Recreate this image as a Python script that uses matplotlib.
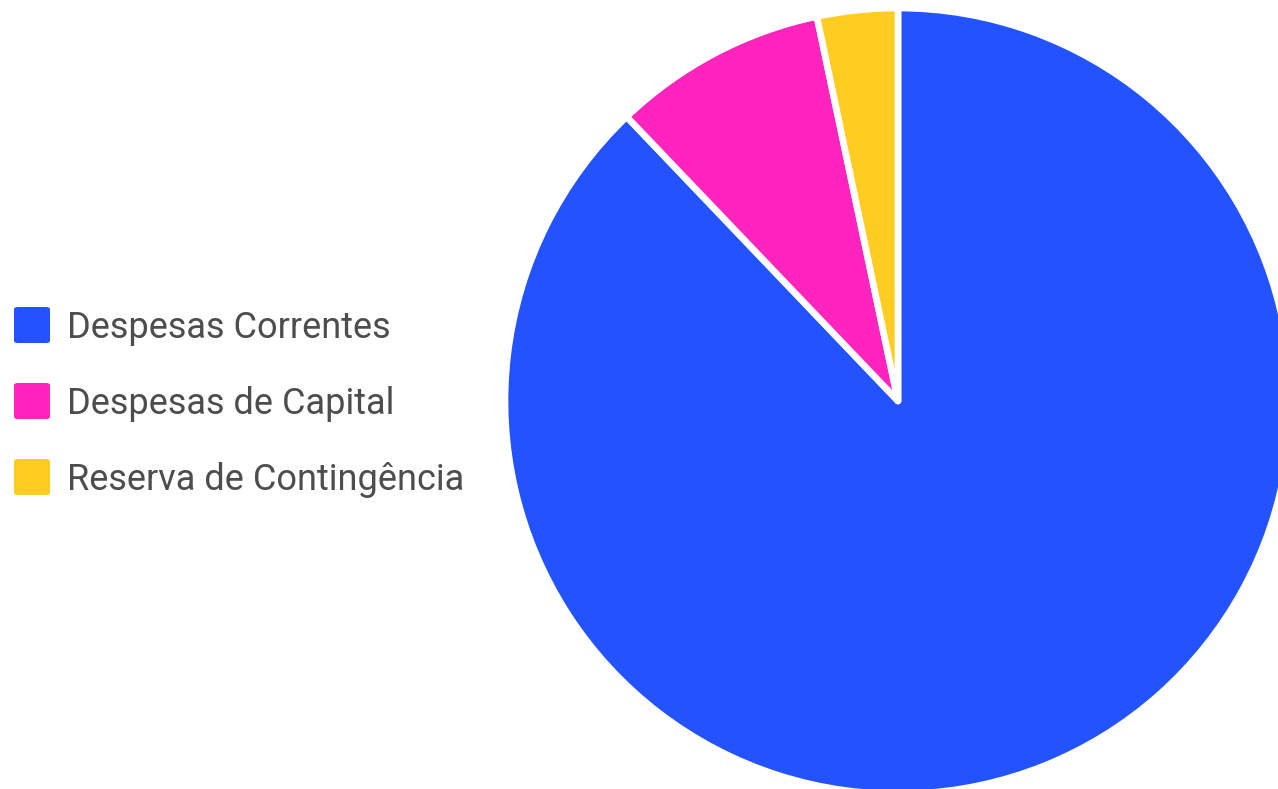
import matplotlib
matplotlib.use("Agg")
import matplotlib.pyplot as plt
from matplotlib.patches import FancyBboxPatch

# ── data ──────────────────────────────────────────────
LABELS = ["Despesas Correntes", "Despesas de Capital", "Reserva de Contingência"]
VALUES = [87.87, 8.82, 3.31]
COLORS = ["#2353FF", "#FF24BD", "#FFCD22"]

# ── geometry (pixels of a 1278x789 canvas) ────────────
W, H = 1278, 789
CX, CY, R = 898, 401, 393          # pie centre / radius
LEG_X = 14                         # left of legend swatch
LEG_Y = [325, 401, 477]            # swatch centres
SW = 36                            # swatch size
TEXT_COLOR = "#4d4d4d"

plt.rcParams["font.family"] = ["Roboto", "DejaVu Sans"]

fig = plt.figure(figsize=(W / 100, H / 100), dpi=100)

ax = fig.add_axes([(CX - R) / W, (H - CY - R) / H, 2 * R / W, 2 * R / H])
ax.pie(VALUES, colors=COLORS, startangle=90, counterclock=False,
       radius=1.0,
       wedgeprops=dict(edgecolor="white", linewidth=4.8, joinstyle="round"))
ax.set_xlim(-1, 1)
ax.set_ylim(-1, 1)
ax.set_aspect("equal")
ax.axis("off")

# legend drawn by hand, one row per category
for lab, col, yc in zip(LABELS, COLORS, LEG_Y):
    x0 = LEG_X / W
    y0 = (H - yc - SW / 2) / H
    fig.patches.append(FancyBboxPatch(
        (x0, y0), SW / W, SW / H,
        boxstyle="round,pad=0,rounding_size=0.003",
        transform=fig.transFigure, facecolor=col, edgecolor="none"))
    fig.text(67 / W, (H - yc + 1) / H, lab, fontsize=26, color=TEXT_COLOR,
             ha="left", va="center_baseline")

fig.savefig("out.png", dpi=100)
